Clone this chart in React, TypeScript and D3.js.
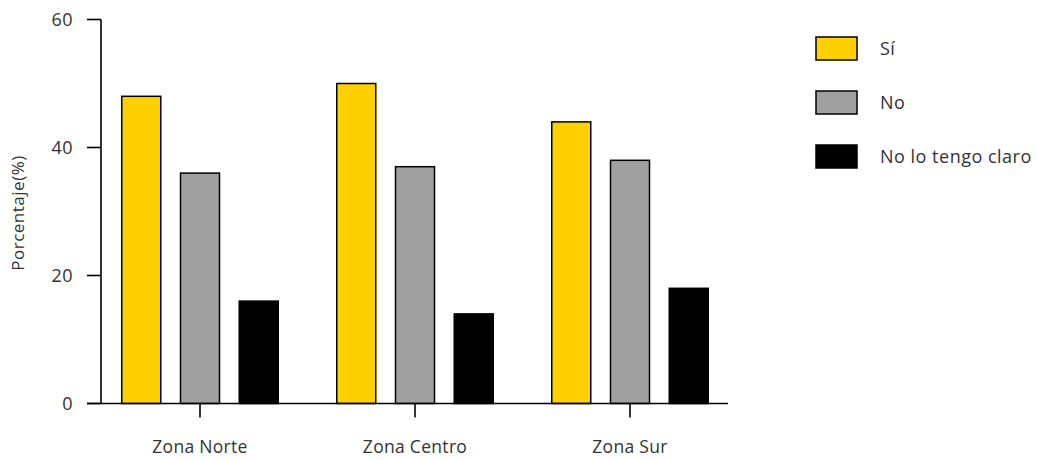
import React from "react";
import * as d3 from "d3";

const zones = ["Zona Norte", "Zona Centro", "Zona Sur"];
const seriesNames = ["Sí", "No", "No lo tengo claro"];
const siValues = [48, 50, 44];
const noValues = [36, 37, 38];
const claroValues = [16, 14, 18];
const yTicks = [0, 20, 40, 60];
const colors = ["#FFD000", "#A0A0A0", "#000000"];

export default function App() {
  const W = 1037, H = 460;
  const y = d3.scaleLinear().domain([0, 60]).range([403.5, 19.5]);
  const x0 = d3.scaleBand<string>().domain(zones).range([92.5, 737.5]).padding(0);
  const innerL = 156.5;
  const x1 = d3.scaleBand<string>().domain(seriesNames).range([0, innerL]).paddingInner(0.336).paddingOuter(0);
  const series = [siValues, noValues, claroValues];
  const font = "'Open Sans', 'Noto Sans', sans-serif";
  const textColor = "#333";
  return (
    <svg width={W} height={H} style={{ position: "absolute", left: 0, top: 0 }} fontFamily={font}>
      {zones.map((z, i) => {
        const cx = (x0(z) as number) + x0.bandwidth() / 2;
        return series.map((vals, s) => {
          const bx = cx - innerL / 2 + (x1(seriesNames[s]) as number);
          return (
            <rect key={z + s} x={bx} y={y(vals[i])} width={x1.bandwidth()} height={y(0) - y(vals[i])}
              fill={colors[s]} stroke="#000" strokeWidth={1.5} />
          );
        });
      })}
      {/* y axis */}
      <line x1={101} x2={101} y1={y(60)} y2={y(0)} stroke="#000" strokeWidth={1.6} />
      {yTicks.map((t) => (
        <g key={t}>
          <line x1={87} x2={101} y1={y(t)} y2={y(t)} stroke="#000" strokeWidth={1.6} />
          <text x={73} y={y(t)} dy="0.35em" textAnchor="end" fontSize={18} letterSpacing={0.4} fill={textColor}>{t}</text>
        </g>
      ))}
      {/* x axis */}
      <line x1={87} x2={728} y1={y(0)} y2={y(0)} stroke="#000" strokeWidth={1.6} />
      {zones.map((z) => {
        const cx = (x0(z) as number) + x0.bandwidth() / 2;
        return (
          <g key={z}>
            <line x1={cx} x2={cx} y1={y(0)} y2={y(0) + 14} stroke="#000" strokeWidth={1.6} />
            <text x={cx} y={447} dy="0.35em" textAnchor="middle" fontSize={17.5} letterSpacing={0.3} fill={textColor}>{z}</text>
          </g>
        );
      })}
      <text transform={`translate(24,213) rotate(-90)`} textAnchor="middle" fontSize={17} letterSpacing={0.5} fill={textColor}>Porcentaje(%)</text>
      {seriesNames.map((n, s) => (
        <g key={n}>
          <rect x={816} y={37 + s * 54} width={41} height={23} fill={colors[s]} stroke="#000" strokeWidth={1.5} />
          <text x={880} y={48.5 + s * 54} dy="0.35em" fontSize={18} letterSpacing={0.5} fill={textColor}>{n}</text>
        </g>
      ))}
    </svg>
  );
}
